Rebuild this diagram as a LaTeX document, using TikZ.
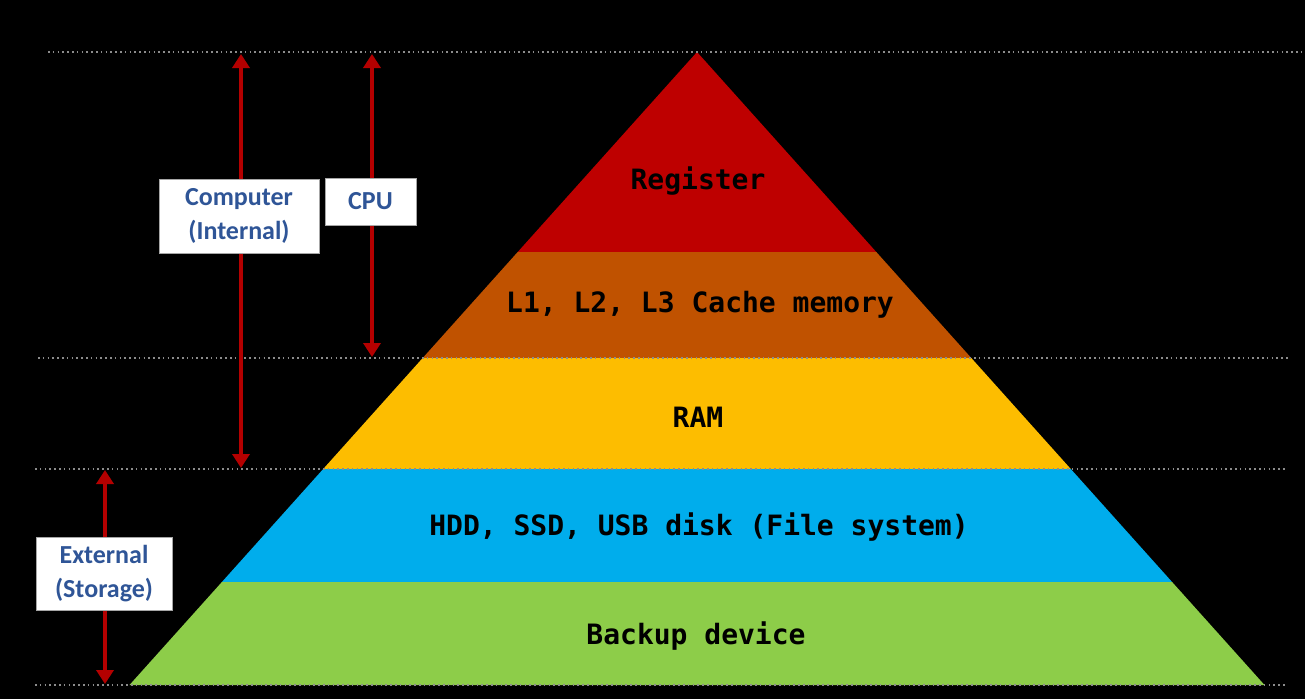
\documentclass[tikz,border=0pt]{standalone}
\usepackage{fontspec}
\usetikzlibrary{arrows.meta}
\newfontfamily\boxfont{Carlito}
\newfontfamily\pyrfont{DejaVu Sans Mono}
\definecolor{regred}{HTML}{BE0000}
\definecolor{cacheor}{HTML}{C05200}
\definecolor{ramyel}{HTML}{FDBD00}
\definecolor{hddblue}{HTML}{00ADEC}
\definecolor{bakgreen}{HTML}{8DCD49}
\definecolor{arrred}{HTML}{B40000}
\definecolor{boxblue}{HTML}{2F5597}
\definecolor{dotgray}{HTML}{8C8C8C}
\begin{document}
\begin{tikzpicture}[x=1pt,y=-1pt,
  layertext/.style={font=\pyrfont\bfseries\fontsize{28}{30}\selectfont, text=black},
  labelbox/.style={draw=gray!70, line width=1pt, fill=white, text=boxblue, align=center,
    font=\boxfont\bfseries\fontsize{26}{34}\selectfont, inner sep=0pt},
  dotline/.style={dotgray, line width=1.6pt, dash pattern=on 1.6pt off 3.2pt},
  span/.style={arrred, line width=3.6pt, {Triangle[width=17pt,length=14pt]}-{Triangle[width=17pt,length=14pt]}}]
\fill[black] (0,0) rectangle (1305,699);
\useasboundingbox (0,0) rectangle (1305,699);
% pyramid layers
\fill[regred] (697,52) -- (876.3,252) -- (517.7,252) -- cycle;
\fill[cacheor] (517.7,252) -- (876.3,252) -- (971.3,358) -- (422.7,358) -- cycle;
\fill[ramyel] (422.7,358) -- (971.3,358) -- (1070.8,469) -- (323.2,469) -- cycle;
\fill[hddblue] (323.2,469) -- (1070.8,469) -- (1172.1,582) -- (221.9,582) -- cycle;
\fill[bakgreen] (221.9,582) -- (1172.1,582) -- (1264.5,685) -- (129.5,685) -- cycle;
% dotted guide lines
\coordinate (t0) at (48,52);   \coordinate (t1) at (1305,52);
\coordinate (c0) at (38,358);  \coordinate (c1) at (1290,358);
\coordinate (r0) at (35,469);  \coordinate (r1) at (1287,469);
\coordinate (b0) at (35,685);  \coordinate (b1) at (1287,685);
\draw[dotline] (t0) -- (t1);
\draw[dotline] (c0) -- (c1);
\draw[dotline] (r0) -- (r1);
\draw[dotline] (b0) -- (b1);
% layer texts
\node[layertext] (reg) at (698,181) {Register};
\node[layertext] (cache) at (700,305) {L1, L2, L3 Cache memory};
\node[layertext] (ram) at (698,417) {RAM};
\node[layertext] (hdd) at (699,527) {HDD, SSD, USB disk (File system)};
\node[layertext] (bak) at (696,636) {Backup device};
% spans
\coordinate (comtop) at (241,54);   \coordinate (combot) at (241,468);
\coordinate (cputop) at (372,54);   \coordinate (cpubot) at (372,357);
\coordinate (exttop) at (105,470);  \coordinate (extbot) at (105,684);
\draw[span] (comtop) -- (combot);
\draw[span] (cputop) -- (cpubot);
\draw[span] (exttop) -- (extbot);
% label boxes
\node[labelbox, minimum width=160pt, minimum height=74pt] (com) at (239,216) {Computer\\(Internal)};
\node[labelbox, minimum width=91pt, minimum height=47pt] (cpu) at (370.5,201.5) {CPU};
\node[labelbox, minimum width=136pt, minimum height=73pt] (ext) at (104,574) {External\\(Storage)};
\end{tikzpicture}
\end{document}
